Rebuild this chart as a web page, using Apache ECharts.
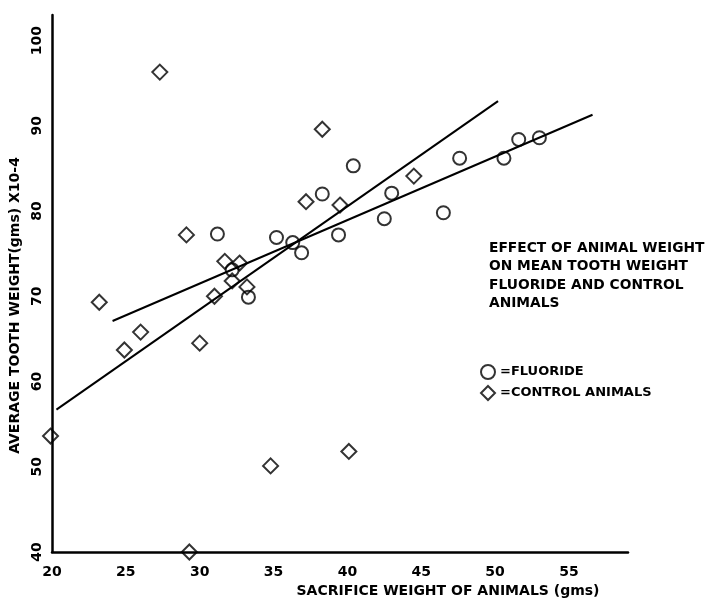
<!DOCTYPE html>
<html>
<head>
<meta charset="utf-8">
<script src="https://cdn.jsdelivr.net/npm/echarts@6/dist/echarts.min.js"></script>
<style>html,body{margin:0;padding:0;background:#fff}#c{width:705px;height:605px}</style>
</head>
<body>
<div id="c"></div>
<script>
// Fluoride animals: [sacrifice weight (gms), average tooth weight (gms x10-4)]
const fluorideX = [31.2, 35.2, 36.3, 36.9, 32.2, 33.3, 38.3, 40.4, 39.4, 43.0, 42.5, 46.5, 47.6, 50.6, 51.6, 53.0];
const fluorideY = [77.3, 76.9, 76.3, 75.1, 73.1, 69.9, 82.0, 85.3, 77.2, 82.1, 79.1, 79.8, 86.2, 86.2, 88.4, 88.6];
// Control animals
const controlX = [27.3, 38.3, 37.2, 39.5, 44.5, 29.1, 31.7, 32.7, 32.2, 33.2, 31.0, 23.2, 26.0, 24.9, 30.0, 19.9, 34.8, 40.1, 29.3];
const controlY = [96.3, 89.6, 81.1, 80.7, 84.1, 77.2, 74.1, 73.9, 71.8, 71.1, 70.0, 69.3, 65.8, 63.7, 64.5, 53.6, 50.1, 51.8, 40.0];
// Fitted lines (end points)
const fluorideLineX = [24.1, 56.6];
const fluorideLineY = [67.1, 91.3];
const controlLineX = [20.3, 50.2];
const controlLineY = [56.7, 92.9];
// Axis ticks
const xTicks = [20, 25, 30, 35, 40, 45, 50, 55];
const yTicks = [40, 50, 60, 70, 80, 90, 100];

const zip = (a, b) => a.map((v, i) => [v, b[i]]);
const FONT = 'DejaVu Sans';
const txt = {fontFamily: FONT, fontWeight: 'bold', fontSize: 14, color: '#000'};

const chart = echarts.init(document.getElementById('c'), null, {renderer: 'canvas'});
chart.setOption({
  backgroundColor: '#fff',
  animation: false,
  title: {
    text: 'EFFECT OF ANIMAL WEIGHT\nON MEAN TOOTH WEIGHT\nFLUORIDE AND CONTROL\nANIMALS',
    left: 484, top: 234,
    textStyle: Object.assign({}, txt, {fontSize: 13.8, lineHeight: 18.5})
  },
  legend: {
    data: ['FLUORIDE', 'CONTROL ANIMALS'],
    orient: 'vertical',
    left: 475, top: 359,
    itemWidth: 14, itemHeight: 14, itemGap: 5,
    formatter: n => '=' + n,
    textStyle: Object.assign({}, txt, {fontSize: 13})
  },
  grid: {left: 52, right: 77, top: 15, bottom: 53, containLabel: false},
  xAxis: {
    type: 'value', min: 20, max: 59, interval: 5,
    axisLine: {show: true, lineStyle: {color: '#000', width: 2.5}},
    axisTick: {show: false},
    splitLine: {show: false},
    axisLabel: Object.assign({}, txt, {margin: 13, formatter: v => xTicks.includes(v) ? String(v) : ''}),
    name: 'SACRIFICE WEIGHT OF ANIMALS (gms)',
    nameLocation: 'middle', nameGap: 31,
    nameTextStyle: Object.assign({}, txt, {padding: [0, 0, 0, 216]})
  },
  yAxis: {
    type: 'value', min: 40, max: 103, interval: 10,
    axisLine: {show: true, lineStyle: {color: '#000', width: 2.5}},
    axisTick: {show: false},
    splitLine: {show: false},
    axisLabel: Object.assign({}, txt, {rotate: 90, margin: 8, formatter: v => yTicks.includes(v) ? String(v) : ''}),
    name: 'AVERAGE TOOTH WEIGHT(gms) X10-4',
    nameLocation: 'middle', nameRotate: 90, nameGap: 26,
    nameTextStyle: Object.assign({}, txt, {padding: [0, 44, 0, 0]})
  },
  series: [
    {
      name: 'fluoride fit', type: 'line', data: zip(fluorideLineX, fluorideLineY),
      symbol: 'none', silent: true, z: 1,
      lineStyle: {color: '#000', width: 2}
    },
    {
      name: 'control fit', type: 'line', data: zip(controlLineX, controlLineY),
      symbol: 'none', silent: true, z: 1,
      lineStyle: {color: '#000', width: 2}
    },
    {
      name: 'FLUORIDE', type: 'scatter', data: zip(fluorideX, fluorideY),
      symbol: 'circle', symbolSize: 13, z: 3, clip: false,
      itemStyle: {color: 'rgba(255,255,255,0)', borderColor: '#000', borderWidth: 2}
    },
    {
      name: 'CONTROL ANIMALS', type: 'scatter', data: zip(controlX, controlY),
      symbol: 'diamond', symbolSize: 15, z: 3, clip: false,
      itemStyle: {color: 'rgba(255,255,255,0)', borderColor: '#000', borderWidth: 2}
    }
  ]
});
</script>
</body>
</html>
